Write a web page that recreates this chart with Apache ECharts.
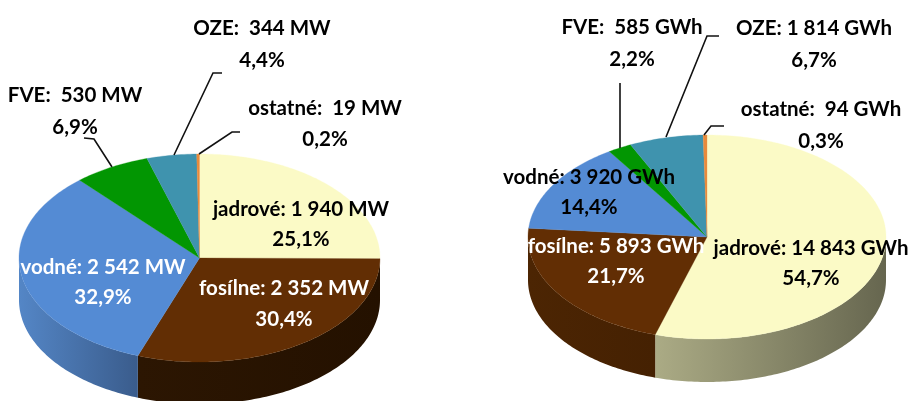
<!DOCTYPE html>
<html><head><meta charset="utf-8">
<script src="https://cdn.jsdelivr.net/npm/echarts@6/dist/echarts.min.js"></script>
<style>html,body{margin:0;padding:0;background:#fff}#c{width:913px;height:401px;filter:blur(0.7px)}</style>
</head><body><div id="c"></div>
<script>
// data
const sources = ['jadrové','fosílne','vodné','FVE','OZE','ostatné'];
const powerValues = [1940,2352,2542,530,344,19];
const powerValueLabels = ['1 940 MW','2 352 MW','2 542 MW','530 MW','344 MW','19 MW'];
const powerPercents = ['25,1%','30,4%','32,9%','6,9%','4,4%','0,2%'];
const energyValues = [14843,5893,3920,585,1814,94];
const energyValueLabels = ['14 843 GWh','5 893 GWh','3 920 GWh','585 GWh','1 814 GWh','94 GWh'];
const energyPercents = ['54,7%','21,7%','14,4%','2,2%','6,7%','0,3%'];
// styles
const topColors = ['#fbfac6','#622e04','#548bd4','#029602','#3f93ae','#e88a3c'];
const leftSeparators = [': ',': ',': ',':  ',':  ',':  '];
const rightSeparators = [': ',': ',': ',':  ',': ',':  '];
const leftSide = [['#fbfac6','#fbfac6'],['#2c1602','#241100'],['#5486c6','#3a5c8c'],['#029602','#029602'],['#3f93ae','#3f93ae'],['#e88a3c','#e88a3c']];
const rightSide = [['#abab85','#66664f'],['#4c2503','#452102'],['#548bd4','#548bd4'],['#029602','#029602'],['#3f93ae','#3f93ae'],['#e88a3c','#e88a3c']];
// layout
const leftPie = {cx:199.5,cy:258,rx:180.5,ry:104,d:42};
const rightPie = {cx:707,cy:237,rx:179,ry:102,d:43};
const leftLabels = [[301,209,239,'#000'],[284,288,319,'#fff'],[103,267,297,'#fff'],[75,95,127,'#000'],[262,28,60,'#000'],[325,108,139,'#000']];
const rightLabels = [[811,248,278,'#000'],[616,246,276,'#fff'],[589,177,207,'#000'],[632,27,59,'#000'],[814,28,60,'#000'],[821,109,141,'#000']];
const leftLeaders = [[[84,138],[94,139],[112,167]],[[222,73],[213,73],[174,155]],[[240,132],[232,132],[199,154]]];
const rightLeaders = [[[620,83],[620,148]],[[719,36],[707,36],[666,137]],[[724,126],[711,126],[704,135]]];

function pieSeries(name, values, geo, sideColors){
  const total = values.reduce((a,b)=>a+b,0);
  const pt = (deg,dy)=>{const t=deg*Math.PI/180;return [geo.cx+geo.rx*Math.sin(t), geo.cy-geo.ry*Math.cos(t)+(dy||0)];};
  return {
    type:'custom', name, coordinateSystem:'none', silent:true, animation:false,
    data: values.map((v,i)=>[v,i]),
    renderItem(params, api){
      const i = params.dataIndex;
      let before = 0; for(let k=0;k<i;k++) before += values[k];
      const a0 = before/total*360, a1 = (before+api.value(0))/total*360;
      const children = [];
      const s0 = Math.max(a0,90), s1 = Math.min(a1,270);
      if(s1>s0){
        const up=[],down=[];
        for(let a=s0;a<s1;a+=1){up.push(pt(a));down.unshift(pt(a,geo.d));}
        up.push(pt(s1));down.unshift(pt(s1,geo.d));
        const xs=up.map(p=>p[0]);
        children.push({type:'polygon',shape:{points:up.concat(down)},style:{fill:{
          type:'linear',global:true,x:Math.min(...xs),y:0,x2:Math.max(...xs),y2:0,
          colorStops:[{offset:0,color:sideColors[i][0]},{offset:1,color:sideColors[i][1]}]},stroke:null}});
      }
      const pts=[[geo.cx,geo.cy]];
      for(let a=a0;a<a1;a+=1) pts.push(pt(a));
      pts.push(pt(a1));
      children.push({type:'polygon',shape:{points:pts},style:{fill:topColors[i],stroke:topColors[i],lineWidth:0.3}});
      return {type:'group',children};
    }
  };
}
function textEls(valueLabels, percents, pos, seps){
  const out=[];
  sources.forEach((s,i)=>{
    const p=pos[i];
    out.push({type:'text',z:10,style:{x:p[0],y:p[1],text:s+seps[i]+valueLabels[i],fill:p[3],align:'center',verticalAlign:'middle',font:'bold 20.5px Lato'}});
    out.push({type:'text',z:10,style:{x:p[0],y:p[2],text:percents[i],fill:p[3],align:'center',verticalAlign:'middle',font:'bold 20.5px Lato'}});
  });
  return out;
}
function leaderEls(lines){
  return lines.map(l=>({type:'polyline',z:9,shape:{points:l},style:{stroke:'#111',lineWidth:1.6,fill:null}}));
}
const chart = echarts.init(document.getElementById('c'),null,{renderer:'canvas'});
chart.setOption({
  backgroundColor:'#fff',
  animation:false,
  series:[pieSeries('Inštalovaný výkon',powerValues,leftPie,leftSide),pieSeries('Výroba',energyValues,rightPie,rightSide)],
  graphic:{elements:[].concat(leaderEls(leftLeaders),leaderEls(rightLeaders),textEls(powerValueLabels,powerPercents,leftLabels,leftSeparators),textEls(energyValueLabels,energyPercents,rightLabels,rightSeparators))}
});
</script></body></html>
